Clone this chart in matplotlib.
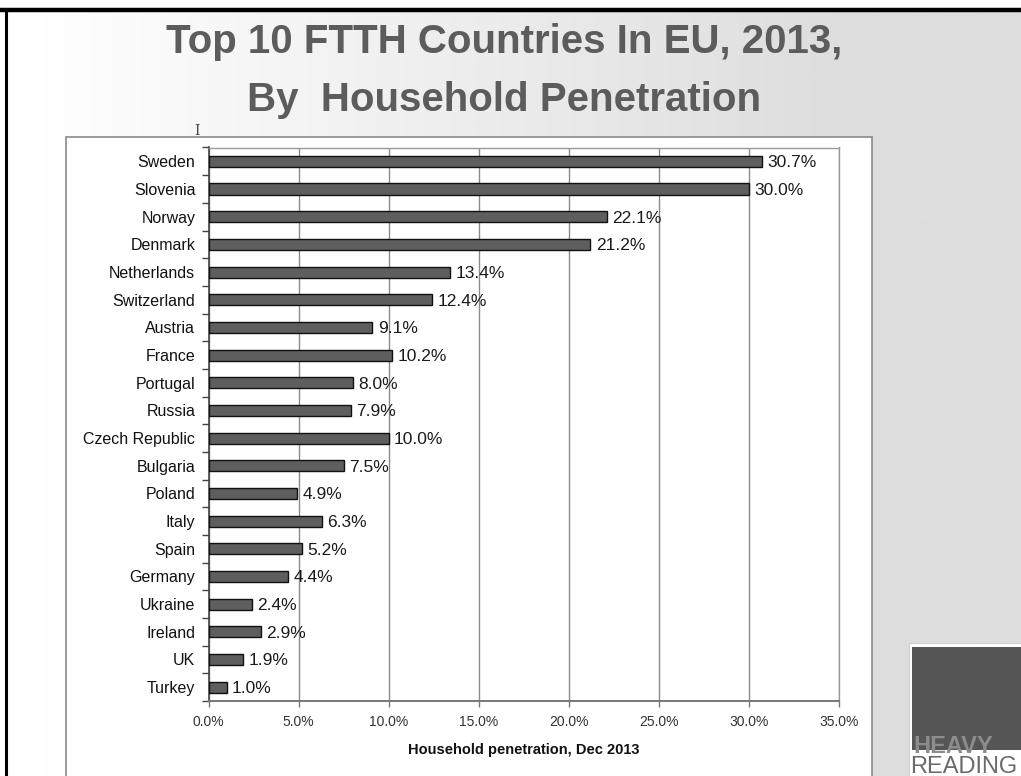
import numpy as np
import matplotlib
matplotlib.use("Agg")
import matplotlib.pyplot as plt
from matplotlib.patches import Rectangle
from matplotlib.colors import LinearSegmentedColormap

countries = ["Sweden", "Slovenia", "Norway", "Denmark", "Netherlands", "Switzerland",
             "Austria", "France", "Portugal", "Russia", "Czech Republic", "Bulgaria",
             "Poland", "Italy", "Spain", "Germany", "Ukraine", "Ireland", "UK", "Turkey"]
penetration = [30.7, 30.0, 22.1, 21.2, 13.4, 12.4, 9.1, 10.2, 8.0, 7.9, 10.0, 7.5,
               4.9, 6.3, 5.2, 4.4, 2.4, 2.9, 1.9, 1.0]
x_ticks = [0, 5, 10, 15, 20, 25, 30, 35]
x_tick_labels = ["0.0%", "5.0%", "10.0%", "15.0%", "20.0%", "25.0%", "30.0%", "35.0%"]

W, H = 1021, 776
fig = plt.figure(figsize=(W / 100, H / 100), dpi=100)
fig.patch.set_facecolor("white")

def fx(px):
    return px / W

def fy(py):
    return 1 - py / H

# slide background: light horizontal gradient
bg = fig.add_axes([0, 0, 1, 1], zorder=0)
bg.set_xlim(0, W)
bg.set_ylim(H, 0)
bg.axis("off")
xs = np.linspace(0, W, 512)
t = np.clip((xs - 40) / (860 - 40), 0, 1)
grad = np.tile(t, (2, 1))
cmap = LinearSegmentedColormap.from_list("slide", ["#ffffff", "#dddddd"])
bg.imshow(grad, cmap=cmap, extent=[0, W, H, 9], aspect="auto", vmin=0, vmax=1)
bg.add_patch(Rectangle((0, 0), W, 9, facecolor="white", edgecolor="none"))
# frame lines of the slide
bg.plot([0, W], [9.5, 9.5], color="black", lw=3.2, solid_capstyle="butt")
bg.plot([6, 6], [9, H], color="black", lw=2.2, solid_capstyle="butt")

# chart panel
bg.add_patch(Rectangle((66, 137), 872 - 66, H - 137 + 5, facecolor="white",
                       edgecolor="#8a8a8a", lw=1.2))

# logo block
bg.add_patch(Rectangle((909, 643), W - 909 + 5, H - 643 + 5, facecolor="white",
                       edgecolor="#d0d0d0", lw=0.8))
bg.add_patch(Rectangle((912, 647), W - 912 + 5, 750 - 647, facecolor="#565656",
                       edgecolor="none"))
bg.text(913, 753, "HEAVY", fontsize=17, fontweight="bold", color="#8c8c8c",
        family="Liberation Sans", va="baseline", ha="left")
bg.text(910, 773, "READING", fontsize=17, color="#6a6a6a",
        family="Liberation Sans", va="baseline", ha="left")

# text cursor
bg.text(197, 131, "I", fontsize=10, color="#444444", family="DejaVu Serif",
        ha="center", va="center")

# title
fig.text(fx(504), fy(42), "Top 10 FTTH Countries In EU, 2013,", fontsize=29,
         fontweight="bold", color="#5c5c5c", family="Liberation Sans",
         ha="center", va="center")
fig.text(fx(504), fy(100), "By  Household Penetration", fontsize=29,
         fontweight="bold", color="#5c5c5c", family="Liberation Sans",
         ha="center", va="center")

# bar chart
left, right, top, bottom = 208.5, 839, 147.5, 701
ax = fig.add_axes([fx(left), fy(bottom), fx(right) - fx(left), (bottom - top) / H],
                  zorder=2)
ax.set_facecolor("none")
y = np.arange(len(countries))
ax.barh(y, penetration, height=0.4, color="#5e5e5e", edgecolor="#111111",
        linewidth=1.0, zorder=3)
for yi, v in zip(y, penetration):
    ax.text(v + 0.3, yi + 0.05, f"{v:.1f}%", fontsize=12.5, color="#1a1a1a",
            family="Liberation Sans", va="center", ha="left", zorder=4)

ax.set_xlim(0, 35)
ax.set_ylim(len(countries) - 0.5, -0.5)
ax.set_xticks(x_ticks)
ax.set_xticklabels(x_tick_labels, fontsize=10, color="#333333", family="Liberation Sans")
ax.set_yticks(y)
ax.set_yticklabels(countries, fontsize=11.5, color="#111111", family="Liberation Sans")
ax.set_yticks(np.arange(-0.5, len(countries)), minor=True)
ax.tick_params(axis="y", which="major", length=0, pad=9.5)
ax.tick_params(axis="y", which="minor", length=5, width=1, color="#444444", direction="out")
ax.tick_params(axis="x", which="major", length=4, width=1, color="#777777",
               direction="out", pad=6)
ax.grid(axis="x", color="#8a8a8a", lw=1.0, zorder=1)
ax.set_axisbelow(True)
for side in ["top", "right"]:
    ax.spines[side].set_color("#9a9a9a")
    ax.spines[side].set_linewidth(1.0)
ax.spines["left"].set_color("#444444")
ax.spines["left"].set_linewidth(1.2)
ax.spines["bottom"].set_color("#777777")
ax.spines["bottom"].set_linewidth(1.4)

ax.set_xlabel("Household penetration, Dec 2013", fontsize=10.5, fontweight="bold",
              color="#111111", family="Liberation Sans", labelpad=10)

fig.savefig("out.png", dpi=100)
